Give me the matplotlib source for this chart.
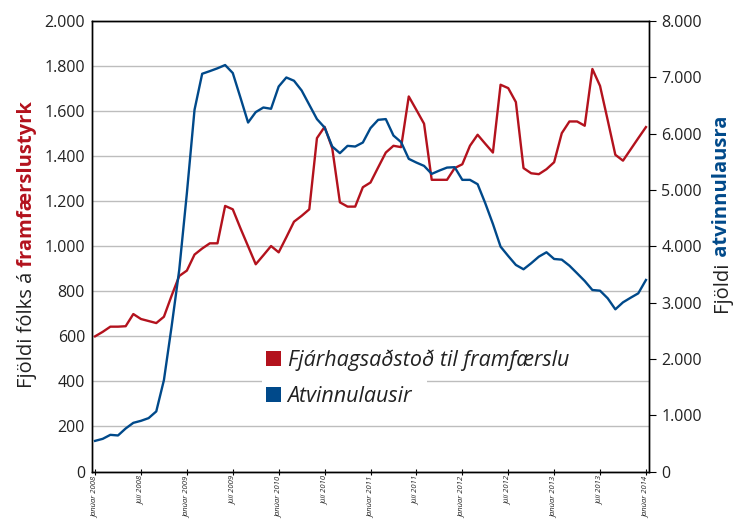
import matplotlib
matplotlib.use('Agg')
import numpy as np
from matplotlib import pyplot as plt
from matplotlib.patches import Patch, Rectangle
from matplotlib.ticker import FuncFormatter

plt.rcParams['font.family'] = ['Open Sans', 'DejaVu Sans']

RED = '#b3121d'
BLUE = '#00498a'
TXT = '#222222'

# manuðir jan 2008 - jan 2014
framfaersla = [600, 620, 643, 643, 645, 699, 677, 668, 659, 687,
               780, 868, 892, 963, 990, 1013, 1013, 1179, 1164, 1080,
               1000, 920, 960, 1001, 973, 1040, 1109, 1135, 1164, 1480,
               1530, 1435, 1195, 1176, 1176, 1262, 1283, 1350, 1416, 1446,
               1440, 1665, 1605, 1544, 1295, 1295, 1295, 1347, 1364, 1446,
               1495, 1455, 1416, 1717, 1702, 1640, 1347, 1324, 1320, 1342,
               1373, 1502, 1554, 1554, 1535, 1787, 1712, 1560, 1406, 1380,
               1430, 1480, 1529]
atvinnulausir = [544, 580, 651, 640, 764, 864, 900, 948, 1067, 1623,
                 2571, 3579, 4942, 6423, 7063, 7110, 7160, 7218, 7076, 6640,
                 6197, 6382, 6464, 6441, 6837, 6997, 6939, 6766, 6512, 6258,
                 6108, 5771, 5653, 5783, 5771, 5842, 6098, 6245, 6258, 5966,
                 5849, 5552, 5486, 5427, 5285, 5344, 5397, 5404, 5179, 5179,
                 5102, 4764, 4396, 3993, 3827, 3668, 3591, 3698, 3815, 3893,
                 3774, 3762, 3655, 3520, 3383, 3223, 3211, 3076, 2880, 3004,
                 3086, 3164, 3401]
xlabels = ['Janúar 2008', 'Júlí 2008', 'Janúar 2009', 'Júlí 2009',
           'Janúar 2010', 'Júlí 2010', 'Janúar 2011', 'Júlí 2011',
           'Janúar 2012', 'Júlí 2012', 'Janúar 2013', 'Júlí 2013',
           'Janúar 2014']

W, H = 752, 519
fig = plt.figure(figsize=(W / 100, H / 100), dpi=100)
ax = fig.add_axes([92 / W, 1 - 471.5 / H, (649 - 92) / W, (471.5 - 21) / H])
ax2 = ax.twinx()

months = np.arange(len(framfaersla))
ax.plot(months, framfaersla, color=RED, lw=1.7, zorder=3)
ax2.plot(months, atvinnulausir, color=BLUE, lw=1.7, zorder=3)

ax.set_xlim(-0.4, 72.4)
ax.set_ylim(0, 2000)
ax2.set_ylim(0, 8000)

dot = FuncFormatter(lambda v, p: f'{int(v):,}'.replace(',', '.'))
ax.set_yticks(np.arange(0, 2001, 200))
ax.yaxis.set_major_formatter(dot)
ax2.set_yticks(np.arange(0, 8001, 1000))
ax2.yaxis.set_major_formatter(dot)

ax.yaxis.grid(True, color='#bdbdbd', lw=1)
ax.set_axisbelow(True)

ax.set_xticks(np.arange(0, 73, 6))
ax.set_xticklabels(xlabels, rotation=90, fontsize=5.5, style='italic',
                   color=TXT, va='top')
ax.tick_params(axis='x', direction='inout', length=5, width=0.8, pad=1)
ax.tick_params(axis='y', length=0, labelsize=11.5, labelcolor=TXT, pad=5)
ax2.tick_params(axis='y', direction='out', length=5, width=0.8,
                labelsize=11.5, labelcolor=TXT, pad=4)

for a in (ax, ax2):
    for s in a.spines.values():
        s.set_color('black')
        s.set_linewidth(1)

# ás-titlar
t1 = fig.text(27 / W, 1 - 388 / H, 'Fjöldi fólks á', rotation=90,
              ha='center', va='bottom', fontsize=14.5, color=TXT)
ax.annotate(' framfærslustyrk', xy=(0.5, 1), xycoords=t1, rotation=90,
            ha='center', va='bottom', fontsize=14.5, color=RED,
            fontweight='bold', annotation_clip=False)
t2 = fig.text(722 / W, 1 - 312 / H, 'Fjöldi', rotation=90,
              ha='center', va='bottom', fontsize=14.5, color=TXT)
ax.annotate(' atvinnulausra', xy=(0.5, 1), xycoords=t2, rotation=90,
            ha='center', va='bottom', fontsize=14.5, color=BLUE,
            fontweight='bold', annotation_clip=False)

# legend
ax2.add_patch(Rectangle((262 / W, 1 - 410 / H), (427 - 262) / W, 34 / H,
                        transform=fig.transFigure, facecolor='white',
                        edgecolor='none', zorder=1))
handles = [Patch(facecolor=RED), Patch(facecolor=BLUE)]
leg = ax2.legend(handles, ['Fjárhagsaðstoð til framfærslu', 'Atvinnulausir'],
                 loc='upper left', bbox_to_anchor=(266 / W, 1 - 349 / H),
                 bbox_transform=fig.transFigure, frameon=False,
                 prop={'size': 15.5, 'style': 'italic'},
                 handlelength=0.7, handleheight=0.7, handletextpad=0.3,
                 labelspacing=0.72, borderpad=0, borderaxespad=0)
for t in leg.get_texts():
    t.set_color(TXT)
leg.set_zorder(5)

fig.savefig('out.png', dpi=100)
